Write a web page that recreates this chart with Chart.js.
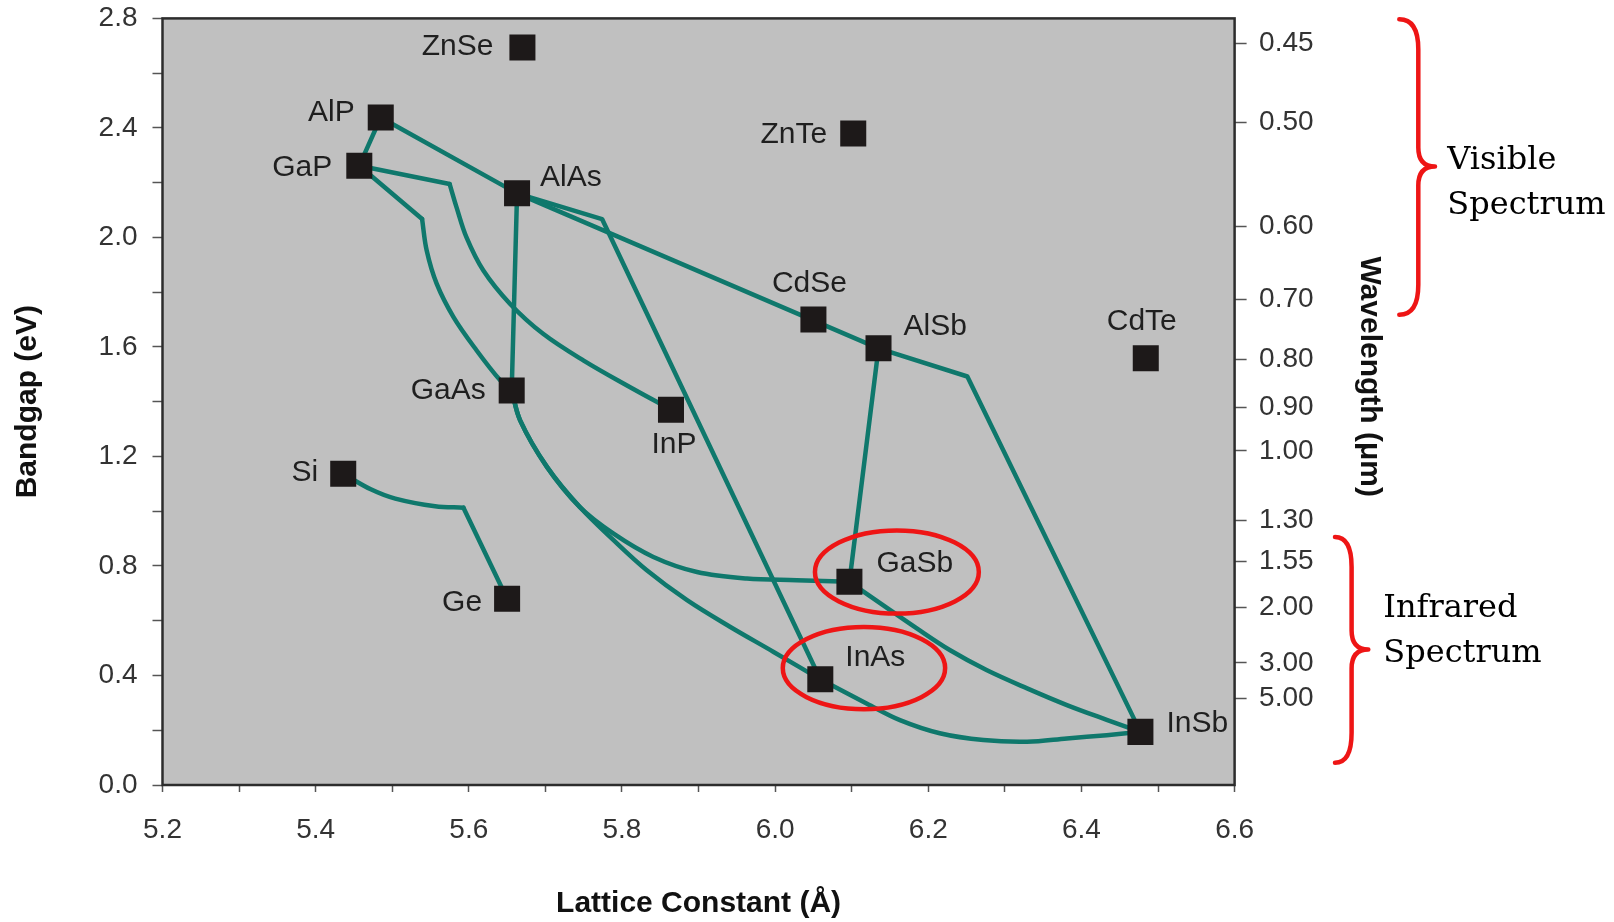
<!DOCTYPE html>
<html>
<head>
<meta charset="utf-8">
<script src="https://cdn.jsdelivr.net/npm/chart.js@4.4.1/dist/chart.umd.min.js"></script>
<style>
html,body{margin:0;padding:0;background:#fff;overflow:hidden}
canvas{display:block}
</style>
</head>
<body>
<canvas id="c" width="1614" height="922"></canvas>
<script>
// ---------- data ----------
const compounds      = ['ZnSe','AlP','GaP','AlAs','ZnTe','CdSe','AlSb','CdTe','GaAs','InP','Si','Ge','GaSb','InAs','InSb'];
const latticeConstant = [5.670, 5.485, 5.457, 5.663, 6.102, 6.050, 6.135, 6.484, 5.656, 5.864, 5.436, 5.650, 6.097, 6.059, 6.477];
const bandgap         = [2.694, 2.438, 2.262, 2.161, 2.380, 1.700, 1.595, 1.559, 1.441, 1.371, 1.137, 0.680, 0.742, 0.386, 0.194];

// straight alloy tie-lines [lattice, bandgap]
const alloyAlPGaP   = [[5.485, 2.438], [5.457, 2.262]];
const alloyAlPAlAs  = [[5.485, 2.438], [5.663, 2.161]];
const alloyAlAsGaAs = [[5.663, 2.161], [5.656, 1.441]];
const alloyAlAsAlSb = [[5.663, 2.161], [6.135, 1.595]];
const alloyAlSbGaSb = [[6.135, 1.595], [6.097, 0.742]];
const alloyAlSbInSb = [[6.135, 1.595], [6.251, 1.492], [6.477, 0.194]];
const alloyAlAsInAs = [[5.663, 2.161], [5.774, 2.067], [6.059, 0.386]];
const alloyGaPInPLead  = [[5.457, 2.262], [5.575, 2.195]];
const alloyGaPGaAsLead = [[5.457, 2.262], [5.539, 2.067]];
const alloySiGeTail    = [[5.593, 1.013], [5.650, 0.680]];

// bowed alloy curves [lattice, bandgap]
const alloyGaPInP   = [[5.575, 2.195], [5.584, 2.110], [5.597, 2.000], [5.619, 1.879], [5.654, 1.757], [5.697, 1.648], [5.750, 1.550], [5.806, 1.460], [5.864, 1.371]];
const alloyGaPGaAs  = [[5.539, 2.067], [5.545, 1.952], [5.558, 1.831], [5.580, 1.709], [5.610, 1.588], [5.641, 1.478], [5.656, 1.441]];
const alloySiGe     = [[5.436, 1.137], [5.472, 1.080], [5.504, 1.046], [5.556, 1.018], [5.593, 1.013]];
const alloyGaAsGaSb = [[5.656, 1.441], [5.667, 1.332], [5.702, 1.162], [5.745, 1.015], [5.789, 0.918], [5.841, 0.833], [5.898, 0.778], [5.963, 0.754], [6.028, 0.748], [6.097, 0.742]];
const alloyGaAsInAs = [[5.656, 1.441], [5.667, 1.332], [5.702, 1.162], [5.745, 1.015], [5.789, 0.894], [5.832, 0.785], [5.885, 0.675], [5.941, 0.578], [5.998, 0.486], [6.059, 0.386]];
const alloyGaSbInSb = [[6.097, 0.742], [6.146, 0.647], [6.185, 0.572], [6.228, 0.493], [6.276, 0.420], [6.329, 0.353], [6.381, 0.292], [6.433, 0.238], [6.477, 0.194]];
const alloyInAsInSb = [[6.059, 0.386], [6.120, 0.297], [6.163, 0.237], [6.215, 0.189], [6.272, 0.164], [6.329, 0.158], [6.381, 0.170], [6.433, 0.182], [6.477, 0.194]];

// secondary (wavelength) axis tick labels and where they sit on the bandgap scale
const wavelengthLabels  = ['0.45','0.50','0.60','0.70','0.80','0.90','1.00','1.30','1.55','2.00','3.00','5.00'];
const wavelengthTickEV  = [2.710, 2.420, 2.039, 1.773, 1.554, 1.380, 1.220, 0.967, 0.818, 0.650, 0.446, 0.316];

// highlighted compounds (ellipse centre and radii in data units)
const ringCenterLattice = [6.159, 6.116];
const ringCenterGap     = [0.778, 0.427];
const ringRadiusLattice = [0.107, 0.106];
const ringRadiusGap     = [0.152, 0.150];

// spectrum braces: [top, tip, bottom] on the bandgap scale, and their notes
const spectrumRangesEV = [[2.797, 2.259, 1.718], [0.906, 0.495, 0.081]];
const spectrumNotes    = [['Visible', 'Spectrum'], ['Infrared', 'Spectrum']];

// ---------- layout / style (not data) ----------
const labelPlacement = [ // [dx px, dy px, textAlign]
  [-29,-1,'right'], [-26,-5,'right'], [-27,2,'right'], [23,-16,'left'], [-26,1,'right'],
  [-4,-36,'center'], [25,-22,'left'], [-4,-36,'center'], [-26,0,'right'], [3,35,'center'],
  [-25,-1,'right'], [-25,4,'right'], [27,-18,'left'], [25,-22,'left'], [26,-8,'left']
];
const braceLayout = [ // offsets in px from the plot's right edge
  {end:164.7, spine:183.7, tip:200.4, text:212.7, lines:[2.3, 47.6]},
  {end:100.4, spine:117.0, tip:133.7, text:148.7, lines:[-32.6, 12.4]}
];
const TEAL = '#0f786c';
const RED = '#ee1515';
const SANS = '"Liberation Sans", Arial, Helvetica, sans-serif';

const toPts = arr => arr.map(([x, y]) => ({x, y}));
const lineBase = {showLine:true, borderColor:TEAL, backgroundColor:TEAL, borderWidth:4.5, pointRadius:0, pointHoverRadius:0,
                  fill:false, borderCapStyle:'round', borderJoinStyle:'round', order:1};

const straightLines = [alloyAlPGaP, alloyAlPAlAs, alloyAlAsGaAs, alloyAlAsAlSb, alloyAlSbGaSb, alloyAlSbInSb, alloyAlAsInAs,
                       alloyGaPInPLead, alloyGaPGaAsLead, alloySiGeTail];
const bowedLines = [alloyGaPInP, alloyGaPGaAs, alloySiGe, alloyGaAsGaSb, alloyGaAsInAs, alloyGaSbInSb, alloyInAsInSb];

const datasets = [
  {label:'Compounds', data: compounds.map((n, i) => ({x: latticeConstant[i], y: bandgap[i]})),
   showLine:false, pointStyle:'rect', pointRadius:18.4, pointHoverRadius:18.4,
   backgroundColor:'#1d1919', borderColor:'#1d1919', borderWidth:0, order:0},
  ...straightLines.map(a => ({...lineBase, data: toPts(a), tension:0})),
  ...bowedLines.map(a => ({...lineBase, data: toPts(a), tension:0.35}))
];

const plotFrame = {
  id:'plotFrame',
  beforeDraw(chart){
    const {ctx, chartArea:a} = chart;
    ctx.save();
    ctx.fillStyle = '#ffffff';
    ctx.fillRect(0, 0, chart.width, chart.height);
    ctx.fillStyle = '#c0c0c0';
    ctx.fillRect(a.left, a.top, a.right - a.left, a.bottom - a.top);
    ctx.restore();
  },
  afterDraw(chart){
    const {ctx, chartArea:a} = chart;
    ctx.save();
    ctx.strokeStyle = '#2c2c2c';
    ctx.lineWidth = 2.5;
    ctx.strokeRect(a.left, a.top, a.right - a.left, a.bottom - a.top);
    ctx.restore();
  }
};

function drawBrace(ctx, xEnd, xSpine, xTip, yTop, yTip, yBot){
  const r = 30, rt = 19;
  ctx.beginPath();
  ctx.moveTo(xEnd, yTop);
  ctx.quadraticCurveTo(xSpine, yTop, xSpine, yTop + r);
  ctx.lineTo(xSpine, yTip - rt);
  ctx.quadraticCurveTo(xSpine, yTip, xTip, yTip);
  ctx.quadraticCurveTo(xSpine, yTip, xSpine, yTip + rt);
  ctx.lineTo(xSpine, yBot - r);
  ctx.quadraticCurveTo(xSpine, yBot, xEnd, yBot);
  ctx.stroke();
}

const annotations = {
  id:'annotations',
  afterDatasetsDraw(chart){
    const {ctx, chartArea:a} = chart;
    const xs = chart.scales.x, ys = chart.scales.y;
    ctx.save();
    // compound labels
    ctx.font = '30px ' + SANS;
    ctx.fillStyle = '#1f1f1f';
    ctx.textBaseline = 'middle';
    compounds.forEach((name, i) => {
      const [dx, dy, align] = labelPlacement[i];
      ctx.textAlign = align;
      ctx.fillText(name, xs.getPixelForValue(latticeConstant[i]) + dx, ys.getPixelForValue(bandgap[i]) + dy);
    });
    // red rings
    ctx.strokeStyle = RED;
    ctx.lineWidth = 4.5;
    ringCenterLattice.forEach((cxv, i) => {
      const cx = xs.getPixelForValue(cxv), cy = ys.getPixelForValue(ringCenterGap[i]);
      const rx = Math.abs(xs.getPixelForValue(cxv + ringRadiusLattice[i]) - cx);
      const ry = Math.abs(ys.getPixelForValue(ringCenterGap[i] + ringRadiusGap[i]) - cy);
      ctx.beginPath();
      ctx.ellipse(cx, cy, rx, ry, 0, 0, Math.PI * 2);
      ctx.stroke();
    });
    // spectrum braces and notes
    ctx.lineCap = 'round';
    ctx.lineJoin = 'round';
    spectrumRangesEV.forEach(([top, tip, bot], i) => {
      const L = braceLayout[i];
      const yTop = ys.getPixelForValue(top), yTip = ys.getPixelForValue(tip), yBot = ys.getPixelForValue(bot);
      ctx.strokeStyle = RED;
      ctx.lineWidth = 4.5;
      drawBrace(ctx, a.right + L.end, a.right + L.spine, a.right + L.tip, yTop, yTip, yBot);
      ctx.fillStyle = '#000';
      ctx.font = '32px "DejaVu Serif", "Liberation Serif", serif';
      ctx.textAlign = 'left';
      ctx.textBaseline = 'alphabetic';
      spectrumNotes[i].forEach((t, k) => ctx.fillText(t, a.right + L.text, yTip + L.lines[k]));
    });
    ctx.restore();
  }
};

const tickFont = {family: SANS, size: 28};
const titleFont = {family: SANS, size: 30, weight: 'bold', lineHeight: 1.2};

new Chart(document.getElementById('c'), {
  type: 'scatter',
  data: {datasets},
  options: {
    responsive: false,
    animation: false,
    events: [],
    layout: {padding: {top: 0, left: 0, right: 0, bottom: 0}},
    plugins: {legend: {display: false}, tooltip: {enabled: false}},
    scales: {
      x: {
        type: 'linear', position: 'bottom', min: 5.2, max: 6.6,
        afterFit(s){ s.height = 137; },
        border: {display: false},
        grid: {drawOnChartArea: false, drawTicks: true, tickLength: 7, tickColor: '#555', tickWidth: 1.5},
        ticks: {stepSize: 0.1, autoSkip: false, maxRotation: 0, padding: 21, color: '#333', font: tickFont,
                callback: v => (Math.round(v * 10) % 2 === 0 ? v.toFixed(1) : '')},
        title: {display: true, text: 'Lattice Constant (Å)', color: '#111', font: titleFont, padding: {top: 0, bottom: 0}}
      },
      y: {
        type: 'linear', position: 'left', min: 0, max: 2.8,
        afterFit(s){ s.width = 162.5; s.paddingTop = 17.5; },
        border: {display: false},
        grid: {drawOnChartArea: false, drawTicks: true, tickLength: 10, tickColor: '#555', tickWidth: 1.5},
        ticks: {stepSize: 0.2, autoSkip: false, padding: 15, color: '#333', font: tickFont,
                callback: v => (Math.round(v * 10) % 4 === 0 ? v.toFixed(1) : '')},
        title: {display: true, text: 'Bandgap (eV)', color: '#111', font: titleFont, padding: {top: 10, bottom: 0}}
      },
      yr: {
        type: 'linear', position: 'right', min: 0, max: 2.8,
        afterFit(s){ s.width = 379.4; s.paddingTop = 17.5; },
        afterBuildTicks(s){ s.ticks = wavelengthTickEV.map(v => ({value: v})); },
        border: {display: false},
        grid: {drawOnChartArea: false, drawTicks: true, tickLength: 12, tickColor: '#555', tickWidth: 1.5},
        ticks: {autoSkip: false, padding: 12.5, color: '#333', font: tickFont,
                callback: (v, i) => wavelengthLabels[i]},
        title: {display: true, text: 'Wavelength (μm)      ', color: '#111', font: titleFont, padding: {top: 227, bottom: 0}}
      }
    }
  },
  plugins: [plotFrame, annotations]
});
</script>
</body>
</html>
